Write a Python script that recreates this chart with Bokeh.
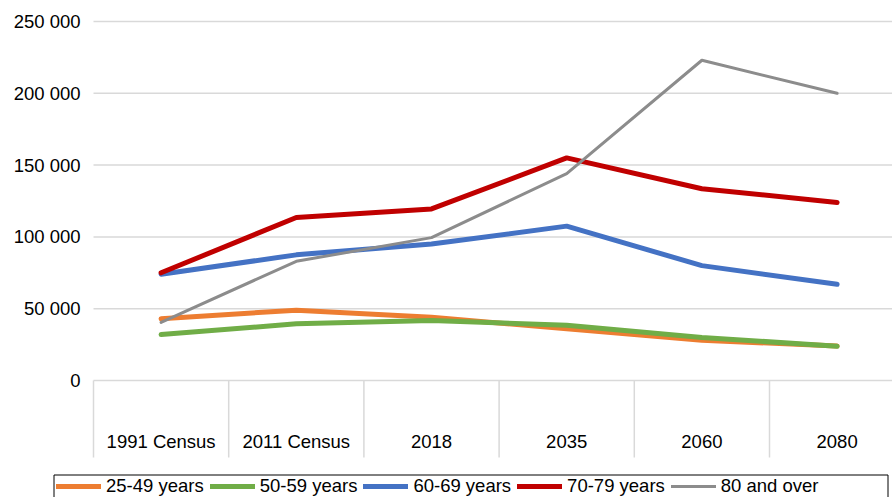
from bokeh.plotting import figure
from bokeh.models import Range1d, Legend, LegendItem
from bokeh.core.properties import value
from bokeh.embed import file_html
from bokeh.resources import INLINE

categories = ["1991 Census", "2011 Census", "2018", "2035", "2060", "2080"]
age_25_49 = [43000, 49000, 44000, 36000, 28000, 24000]
age_50_59 = [32000, 39500, 41800, 38500, 30000, 23800]
age_60_69 = [74000, 87500, 95000, 107500, 80000, 67000]
age_70_79 = [75000, 113500, 119500, 155000, 133500, 124000]
age_80_plus = [40500, 83000, 99500, 144000, 223000, 200000]
series_names = ["25-49 years", "50-59 years", "60-69 years", "70-79 years", "80 and over"]
y_ticks = [0, 50000, 100000, 150000, 200000, 250000]
y_tick_labels = ["0", "50 000", "100 000", "150 000", "200 000", "250 000"]

colors = ["#ED7D31", "#70AD47", "#4472C4", "#C00000", "#8C8C8C"]
widths = [5, 5, 5, 5, 3]
FONT = "Liberation Sans"
FS = "18.5px"

W, H = 892, 497
LEFT, TOP, ZERO = 93, 21, 380      # pixel positions of plot area
CAT_W = 135.2                       # pixels per category
YMAX = max(y_ticks)
UPP = YMAX / (ZERO - TOP)           # data units per pixel (y)


def px_x(px):
    return (px - LEFT) / CAT_W


def px_y(py):
    return (ZERO - py) * UPP


centers = [i + 0.5 for i in range(len(categories))]
bounds = [float(i) for i in range(len(categories) + 1)]

p = figure(width=W, height=H,
           x_range=Range1d(px_x(0), px_x(W)),
           y_range=Range1d(px_y(H), px_y(0)),
           output_backend="svg", toolbar_location=None,
           min_border=0, x_axis_type=None, y_axis_type=None)
p.outline_line_color = None
p.background_fill_color = "white"
p.border_fill_color = "white"
p.grid.visible = False

# horizontal gridlines
p.segment(x0=[0] * len(y_ticks), x1=[px_x(W)] * len(y_ticks), y0=y_ticks, y1=y_ticks,
          line_color="#d9d9d9", line_width=1.5)
# category separators
p.segment(x0=bounds, x1=bounds, y0=[0] * len(bounds), y1=[px_y(ZERO + 77)] * len(bounds),
          line_color="#d9d9d9", line_width=1.5)
# y tick labels
p.text(x=[px_x(LEFT - 13)] * len(y_ticks), y=y_ticks, text=y_tick_labels,
       text_font=value(FONT), text_font_size=FS, text_color="black",
       text_align="right", text_baseline="middle")
# category labels
p.text(x=centers, y=[px_y(ZERO + 61)] * len(centers), text=categories,
       text_font=value(FONT), text_font_size=FS, text_color="black",
       text_align="center", text_baseline="middle")

# legend frame (Excel-style wide box)
p.quad(left=[px_x(53.5)], right=[px_x(887.5)], top=[px_y(474.5)], bottom=[px_y(H + 5)],
       fill_color="white", line_color="black", line_width=1)

items = []
for name, vals, c, w in zip(series_names,
                            [age_25_49, age_50_59, age_60_69, age_70_79, age_80_plus],
                            colors, widths):
    r = p.line(centers, vals, line_color=c, line_width=w, line_cap="round", line_join="round")
    items.append(LegendItem(label=name, renderers=[r]))

legend = Legend(items=items, orientation="horizontal", location=(56, 0),
                border_line_color=None, background_fill_alpha=0,
                label_text_font=FONT, label_text_font_size=FS, label_text_color="black",
                glyph_width=45, glyph_height=20, label_standoff=5, spacing=6,
                padding=1, margin=0)
p.add_layout(legend, "center")

open("out.html", "w").write(file_html(p, INLINE))
